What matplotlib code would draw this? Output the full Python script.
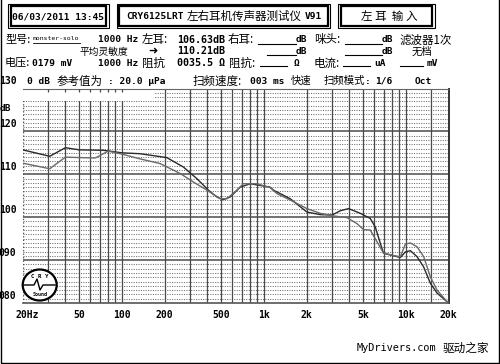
import matplotlib
matplotlib.use("Agg")
import matplotlib.pyplot as plt
import matplotlib.transforms as mtransforms
from matplotlib.patches import Rectangle, Ellipse
from matplotlib.lines import Line2D

W, H = 500, 364

freq_a = [20, 31, 40, 50, 74, 100, 134, 207, 271, 337, 407, 467, 517, 579, 681,
          802, 1108, 1170, 1535, 2012, 2500, 3020, 3458, 3954, 4784, 5624, 6101,
          6620, 6980, 9160, 9930, 10770, 12010, 13370, 14900, 16620, 19540, 20000]
spl_a = [115.7, 114.2, 116.2, 115.7, 115.6, 115.0, 114.8, 113.9, 111.7, 109.0, 106.3,
         104.7, 104.1, 104.7, 107.0, 107.8, 107.0, 106.3, 104.3, 101.2, 100.6, 100.5,
         101.5, 102.0, 100.9, 99.7, 97.7, 93.9, 91.6, 90.6, 91.9, 92.2, 90.8, 88.4,
         84.6, 82.3, 80.3, 80.1]
freq_b = [20, 31, 40, 50, 65, 80, 100, 134, 186, 257, 319, 397, 492, 549, 646, 716,
          893, 1108, 1236, 1620, 2012, 2500, 3100, 3854, 4532, 5048, 5624, 6980,
          8684, 9160, 9930, 10770, 12010, 13370, 14900, 16620, 19540, 20000]
spl_b = [112.6, 111.3, 114.0, 113.9, 113.8, 115.4, 114.7, 113.6, 112.5, 110.2, 108.2,
         106.3, 104.3, 104.3, 106.3, 107.8, 107.8, 106.9, 105.5, 103.6, 102.0, 100.9,
         100.3, 99.9, 98.5, 97.1, 97.0, 91.6, 90.9, 90.8, 93.7, 94.0, 93.1, 90.8,
         86.1, 83.0, 80.3, 80.1]

xtick_freqs = [20, 50, 100, 200, 500, 1000, 2000, 5000, 10000, 20000]
xtick_labels = ["20Hz", "50", "100", "200", "500", "1k", "2k", "5k", "10k", "20k"]
ytick_vals = [130, 120, 110, 100, 90, 80]
ytick_labels = ["130", "120", "110", "100", "090", "080"]
grid_freqs = [30, 40, 50, 60, 70, 80, 90, 100, 200, 300, 400, 500, 600, 700, 800,
              900, 1000, 2000, 3000, 4000, 5000, 6000, 7000, 8000, 9000, 10000, 15000]

MONO = ["DejaVu Sans Mono", "Noto Sans CJK SC"]
CJK = ["Noto Sans CJK SC", "DejaVu Sans"]

fig = plt.figure(figsize=(5, 3.64), dpi=100)


def fx(x):
    return x / W


def fy(y):
    return 1 - y / H


def txt(x, y, s, size=7, cjk=False, ha="left", **kw):
    fam = CJK if cjk else MONO
    wt = "normal" if cjk else "bold"
    fig.text(fx(x), fy(y), s, fontsize=size, family=fam, fontweight=wt,
             va="center", ha=ha, color="black", **kw)


def uline(x0, x1, y, lw=0.8):
    fig.add_artist(Line2D([fx(x0), fx(x1)], [fy(y), fy(y)], color="black", lw=lw))


def box(x0, y0, x1, y1, lw):
    fig.add_artist(Rectangle((fx(x0), fy(y1)), fx(x1) - fx(x0), fy(y0) - fy(y1),
                             fill=False, ec="black", lw=lw, transform=fig.transFigure))


# ---- plot area ----
ax = fig.add_axes([22.7 / W, 1 - 303 / H, (448.5 - 22.7) / W, (303 - 88.5) / H])
ax.set_xscale("log")
ax.set_xlim(20, 20000)
ax.set_ylim(80, 130)

for v in range(81, 130):
    if v % 10:
        ax.axhline(v, color="#6e6e6e", lw=0.75, dashes=(1, 1.3), zorder=1)
for v in (90, 100, 110, 120):
    ax.axhline(v, color="#5a5a5a", lw=1.2, zorder=2)
for f in grid_freqs:
    ax.axvline(f, color="#4a4a4a", lw=0.9, zorder=2)
ax.axvline(20, color="#555555", lw=1.0, dashes=(1, 1.5), zorder=2)

# blank strip at top left
ax.add_patch(Rectangle((20, 127), 171 - 20, 3, fc="white", ec="none", zorder=2.5))
ax.vlines([f for f in grid_freqs if f < 171], 129.3, 130, color="#4a4a4a", lw=0.9, zorder=2.6)

ax.plot(freq_a, spl_a, color="#2a2a2a", lw=1.0, zorder=4)
ax.plot(freq_b, spl_b, color="#6a6a6a", lw=1.0, zorder=4)

ax.spines["left"].set_visible(False)
ax.spines["top"].set_color("#666666")
ax.spines["top"].set_linewidth(0.8)
ax.spines["bottom"].set_color("#555555")
ax.spines["bottom"].set_linewidth(1.2)
ax.spines["right"].set_color("#333333")
ax.spines["right"].set_linewidth(1.4)

ax.set_xticks(xtick_freqs)
ax.set_xticklabels(xtick_labels, family=MONO, fontweight="bold", fontsize=7)
ax.xaxis.set_minor_locator(matplotlib.ticker.NullLocator())
ax.set_yticks(ytick_vals)
ax.set_yticklabels(ytick_labels, family=MONO, fontweight="bold", fontsize=7)
ax.tick_params(axis="x", length=0, pad=5)
ax.tick_params(axis="y", length=0, pad=4.5)
off = mtransforms.ScaledTranslation(0, 8 / 100, fig.dpi_scale_trans)
for lab in ax.get_yticklabels():
    lab.set_transform(lab.get_transform() + off)
    lab.set_clip_on(False)
first = ax.get_xticklabels()[0]
first.set_transform(first.get_transform() +
                    mtransforms.ScaledTranslation(5 / 100, 0, fig.dpi_scale_trans))

# ---- header boxes ----
box(8.3, 4, 108.5, 28.3, 0.8)
box(10.8, 6.2, 106.2, 26.3, 1.6)
txt(58, 16.5, "06/03/2011 13:45", 6.8, ha="center")

box(116.7, 4, 330.3, 28.3, 0.8)
box(119.3, 6.2, 327.8, 26.3, 1.6)
txt(126, 16.5, "CRY6125LRT", 6.8)
txt(187, 16.5, "左右耳机传声器测试仪", 8.3, cjk=True)
txt(305, 16.5, "V91", 6.8)

box(338.3, 4, 434.5, 28.3, 0.8)
box(341, 6.2, 432, 26.3, 1.6)
txt(389, 16.5, "左 耳  输 入", 8.3, cjk=True, ha="center")

# ---- row 1 ----
txt(5, 40, "型号:", 8.0, cjk=True)
fig.text(fx(33), fy(39), "monster-solo", fontsize=4.6, family=MONO, va="center", ha="left")
uline(33, 80, 43, 0.6)
txt(98, 40, "1000 Hz", 6.8)
txt(142, 40, "左耳:", 8.3, cjk=True)
txt(177, 40, "106.63dB", 7.2)
txt(228, 40, "右耳:", 8.3, cjk=True)
uline(258, 296, 44)
txt(296, 40, "dB", 6.8)
txt(314, 40, "咪头:", 8.3, cjk=True)
uline(345, 382, 44)
txt(382, 40, "dB", 6.8)
txt(399, 40, "滤波器1次", 8.3, cjk=True)

# ---- row 2 ----
txt(80, 51.5, "平均灵敏度", 7.0, cjk=True)
fig.text(fx(153), fy(51), "➜", fontsize=8, family="DejaVu Sans", fontweight="bold",
         va="center", ha="center")
txt(177, 51.5, "110.21dB", 7.2)
uline(267, 296, 55)
txt(296, 51.5, "dB", 6.8)
uline(345, 382, 55)
txt(382, 51.5, "dB", 6.8)
txt(412, 52, "无档", 7.5, cjk=True)

# ---- row 3 ----
txt(5, 63, "电压:", 8.0, cjk=True)
txt(32, 63, "0179 mV", 6.8)
txt(98, 63, "1000 Hz", 6.8)
txt(142, 63, "阻抗", 8.3, cjk=True)
txt(177, 63, "0035.5 Ω", 7.2)
txt(229, 63, "阻抗:", 8.3, cjk=True)
uline(260, 287, 66)
txt(294, 63, "Ω", 6.8)
txt(314, 63, "电流:", 8.3, cjk=True)
uline(343, 370, 66)
txt(374, 63, "uA", 6.8)
uline(400, 423, 66)
txt(427, 63, "mV", 6.8)

# ---- row 4 ----
txt(27, 81, "0 dB", 6.8)
txt(57, 81, "参考值为", 8.3, cjk=True)
txt(108, 81, ": 20.0 μPa", 6.8)
txt(193, 81, "扫频速度:", 8.3, cjk=True)
txt(250, 81, "003 ms", 6.8)
txt(291, 81, "快速", 7.5, cjk=True)
txt(324, 81, "扫频模式", 7.5, cjk=True)
txt(365, 81, ":", 6.8)
txt(375, 81, "1/6", 6.8)
txt(415, 81, "Oct", 6.8)

txt(0, 108, "dB", 6.8)

# ---- logo ----
fig.add_artist(Ellipse((fx(39.7), fy(285)), 34 / W, 31 / H, transform=fig.transFigure,
                       fc="white", ec="black", lw=1.6))
fig.add_artist(Line2D([fx(24), fx(34), fx(37), fx(40), fx(43), fx(55)],
                      [fy(285), fy(285), fy(279), fy(290), fy(285), fy(285)],
                      color="black", lw=1.0))
fig.text(fx(39.7), fy(277), "C R Y", fontsize=4.2, family=MONO, fontweight="bold",
         ha="center", va="center")
fig.text(fx(39.7), fy(294), "Sound", fontsize=3.6, family=MONO, fontweight="bold",
         ha="center", va="center")

# ---- watermark ----
fig.text(fx(357), fy(348), "MyDrivers.com", fontsize=7.4, family="DejaVu Sans Mono",
         ha="left", va="center")
fig.text(fx(443), fy(348), "驱动之家", fontsize=8.4, family=CJK, ha="left", va="center")

# outer frame
fig.add_artist(Line2D([fx(0.8), fx(0.8), fx(499.2), fx(499.2)],
                      [fy(0), fy(362.8), fy(362.8), fy(0)], color="black", lw=1.0))

fig.savefig("out.png", dpi=100)
